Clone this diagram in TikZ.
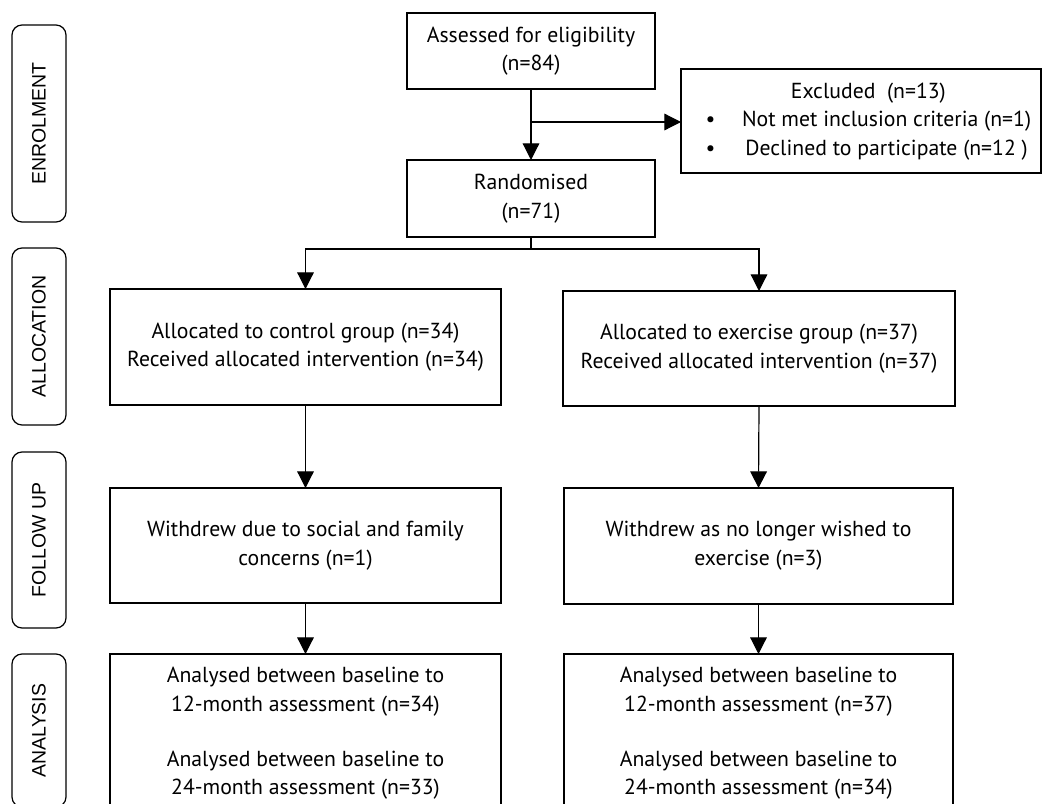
\documentclass[tikz,border=0pt]{standalone}
\usepackage{fontspec}
\setmainfont{PT Sans}
\newfontfamily\sidefont{Liberation Sans}
\usetikzlibrary{arrows.meta}

\begin{document}
\begin{tikzpicture}[x=0.75pt,y=0.75pt,yscale=-1,xscale=1,
  flowbox/.style={draw, line width=0.9pt, inner sep=0pt, outer sep=0pt, align=center,
    font=\fontsize{16.3pt}{21.5pt}\selectfont},
  stagebox/.style={draw, line width=0.9pt, rounded corners=7.5pt, rotate=90, inner sep=0pt,
    outer sep=0pt, minimum height=40.5pt, font=\sidefont\fontsize{14.6pt}{16pt}\selectfont},
  flowarrow/.style={-{Triangle[length=12.5pt,width=12.5pt]}, line width=0.9pt}]
\useasboundingbox (0,0) rectangle (1042,803);
\clip (0,0) rectangle (1042,803);

%Stage labels
\node[stagebox, minimum width=147.75pt] (enrol) at (39,123.5) {ENROLMENT};
\node[stagebox, minimum width=132.75pt] (alloc) at (39,336.5) {ALLOCATION};
\node[stagebox, minimum width=132pt] (follow) at (39,540) {FOLLOW UP};
\node[stagebox, minimum width=114.75pt] (analys) at (39,730.5) {ANALYSIS};

%Enrolment boxes
\node[flowbox, minimum width=186pt, minimum height=57pt] (assess) at (531,51) {Assessed for eligibility\\(n=84)};
\node[flowbox, minimum width=270pt, minimum height=78pt] (excl) at (861,121)
  {\hspace*{11pt}\begin{tabular}{@{}c@{\hspace{20pt}}c@{}}
   \multicolumn{2}{c}{Excluded~~(n=13)}\\
   \textbullet & Not met inclusion criteria (n=1)\\
   \textbullet & Declined to participate (n=12 )
   \end{tabular}};
\node[flowbox, minimum width=186pt, minimum height=57.75pt] (rand) at (531,198.5) {Randomised\\(n=71)};

%Allocation boxes
\node[flowbox, minimum width=293.25pt, minimum height=87pt] (ctrl) at (305.5,347) {Allocated to control group (n=34)\\Received allocated intervention (n=34)};
\node[flowbox, minimum width=294pt, minimum height=86.25pt] (exer) at (759,348.5) {Allocated to exercise group (n=37)\\Received allocated intervention (n=37)};

%Follow up boxes
\node[flowbox, minimum width=293.25pt, minimum height=86.25pt] (fuctrl) at (305.5,545.5) {Withdrew due to social and family\\concerns (n=1)};
\node[flowbox, minimum width=291.75pt, minimum height=87pt] (fuexer) at (758.5,546) {Withdrew as no longer wished to\\exercise (n=3)};

%Analysis boxes
\node[flowbox, minimum width=293.25pt, minimum height=119.25pt] (anctrl) at (305.5,733.5)
  {Analysed between baseline to\\12-month assessment (n=34)\\[19.5pt]Analysed between baseline to\\24-month assessment (n=33)};
\node[flowbox, minimum width=291.75pt, minimum height=119.25pt] (anexer) at (758.5,733.5)
  {Analysed between baseline to\\12-month assessment (n=37)\\[19.5pt]Analysed between baseline to\\24-month assessment (n=34)};

%Connectors
\coordinate (branch) at (531,122);
\coordinate (split) at (531,249);
\draw[flowarrow] (assess.south) -- (rand.north);
\draw[flowarrow] (branch) -- (branch -| excl.west);
\draw[line width=0.9pt] (rand.south) -- (split);
\draw[flowarrow] (split) -| (ctrl.north);
\draw[flowarrow] (split) -| (exer.north);
\draw[flowarrow] (ctrl.south) -- (fuctrl.north);
\draw[flowarrow] (exer.south) -- (fuexer.north);
\draw[flowarrow] (fuctrl.south) -- (anctrl.north);
\draw[flowarrow] (fuexer.south) -- (anexer.north);

\end{tikzpicture}
\end{document}
